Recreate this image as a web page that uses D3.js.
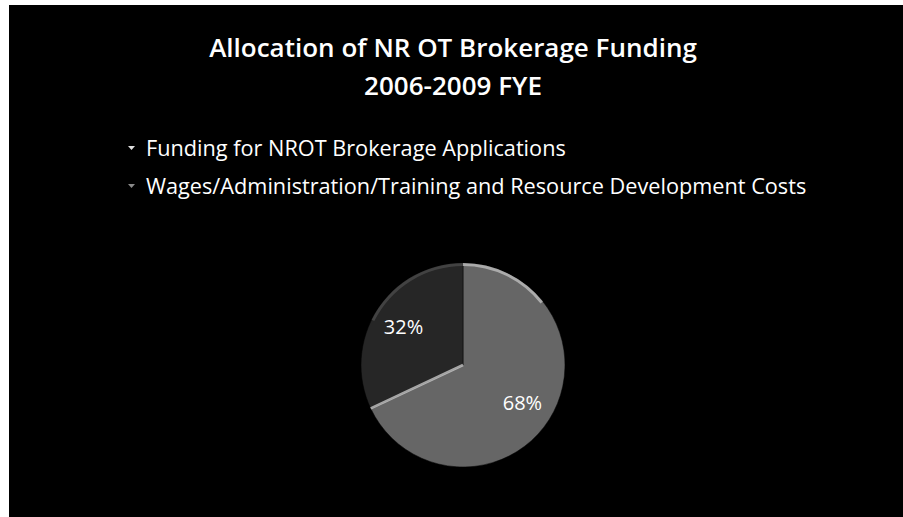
<!DOCTYPE html>
<html lang="en">
<head>
    <meta charset="UTF-8">
    <title>Allocation of NR OT Brokerage Funding</title>
    <script src="https://d3js.org/d3.v7.min.js"></script>
    <style>
        body { margin: 0; background: #fff; }
        svg text { font-family: "Open Sans", "Lato", sans-serif; fill: #fff; }
    </style>
</head>
<body>
<div id="chart"></div>
<script>
    // chart data
    var titleLines = ["Allocation of NR OT Brokerage Funding", "2006-2009 FYE"];
    var categories = ["Funding for NROT Brokerage Applications",
        "Wages/Administration/Training and Resource Development Costs"];
    var values = [68, 32];
    var colors = ["#666666", "#262626"];

    var width = 903, height = 517;

    var svg = d3.select("#chart")
        .append("svg")
        .attr("width", width)
        .attr("height", height);

    // black slide background
    svg.append("rect")
        .attr("x", 9).attr("y", 5)
        .attr("width", width - 9).attr("height", height - 5)
        .attr("fill", "#000");

    // title
    svg.selectAll(".title")
        .data(titleLines)
        .enter().append("text")
        .attr("class", "title")
        .attr("x", 453)
        .attr("y", function (d, i) { return 57 + i * 38; })
        .attr("text-anchor", "middle")
        .style("font-size", "26px")
        .style("font-weight", "600")
        .text(function (d) { return d; });

    // legend
    var legend = svg.selectAll(".legend")
        .data(categories)
        .enter().append("g")
        .attr("class", "legend")
        .attr("transform", function (d, i) { return "translate(128," + (156 + i * 38) + ")"; });

    legend.append("path")
        .attr("d", "M0,-10 L7,-10 L3.5,-6 Z")
        .attr("fill", function (d, i) { return i === 0 ? "#e0e0e0" : "#8a8a8a"; });

    legend.append("text")
        .attr("x", 18)
        .style("font-size", "21.7px")
        .text(function (d) { return d; });

    // pie
    var radius = 102;
    var pie = d3.pie().sort(null);
    var arc = d3.arc().innerRadius(0).outerRadius(radius);
    var labelArc = d3.arc().innerRadius(radius * 0.69).outerRadius(radius * 0.69);

    var g = svg.append("g")
        .attr("transform", "translate(463,365)");

    var arcs = pie(values);

    var slices = g.selectAll(".slice")
        .data(arcs)
        .enter().append("g")
        .attr("class", "slice");

    slices.append("path")
        .attr("d", arc)
        .attr("fill", function (d, i) { return colors[i]; })
        .attr("stroke", "#000")
        .attr("stroke-width", 0.5);

    // light bevel edge on the large slice (top rim)
    var rim = d3.arc().innerRadius(radius - 3).outerRadius(radius);
    g.append("path")
        .attr("d", rim({ startAngle: arcs[0].startAngle, endAngle: arcs[0].startAngle + 0.9 }))
        .attr("fill", "#bdbdbd")
        .attr("opacity", 0.8);
    g.append("path")
        .attr("d", rim({ startAngle: arcs[1].startAngle + 0.9, endAngle: arcs[1].endAngle }))
        .attr("fill", "#555")
        .attr("opacity", 0.6);

    // light bevel along the cut edge of the large slice
    var endA = arcs[0].endAngle;
    g.append("line")
        .attr("x1", 0).attr("y1", 0)
        .attr("x2", Math.sin(endA) * radius)
        .attr("y2", -Math.cos(endA) * radius)
        .attr("stroke", "#c8c8c8")
        .attr("stroke-width", 2.5)
        .attr("opacity", 0.8);

    slices.append("text")
        .attr("transform", function (d) { return "translate(" + labelArc.centroid(d) + ")"; })
        .attr("dy", "0.35em")
        .attr("text-anchor", "middle")
        .style("font-size", "20px")
        .text(function (d) { return d.data + "%"; });
</script>
</body>
</html>
